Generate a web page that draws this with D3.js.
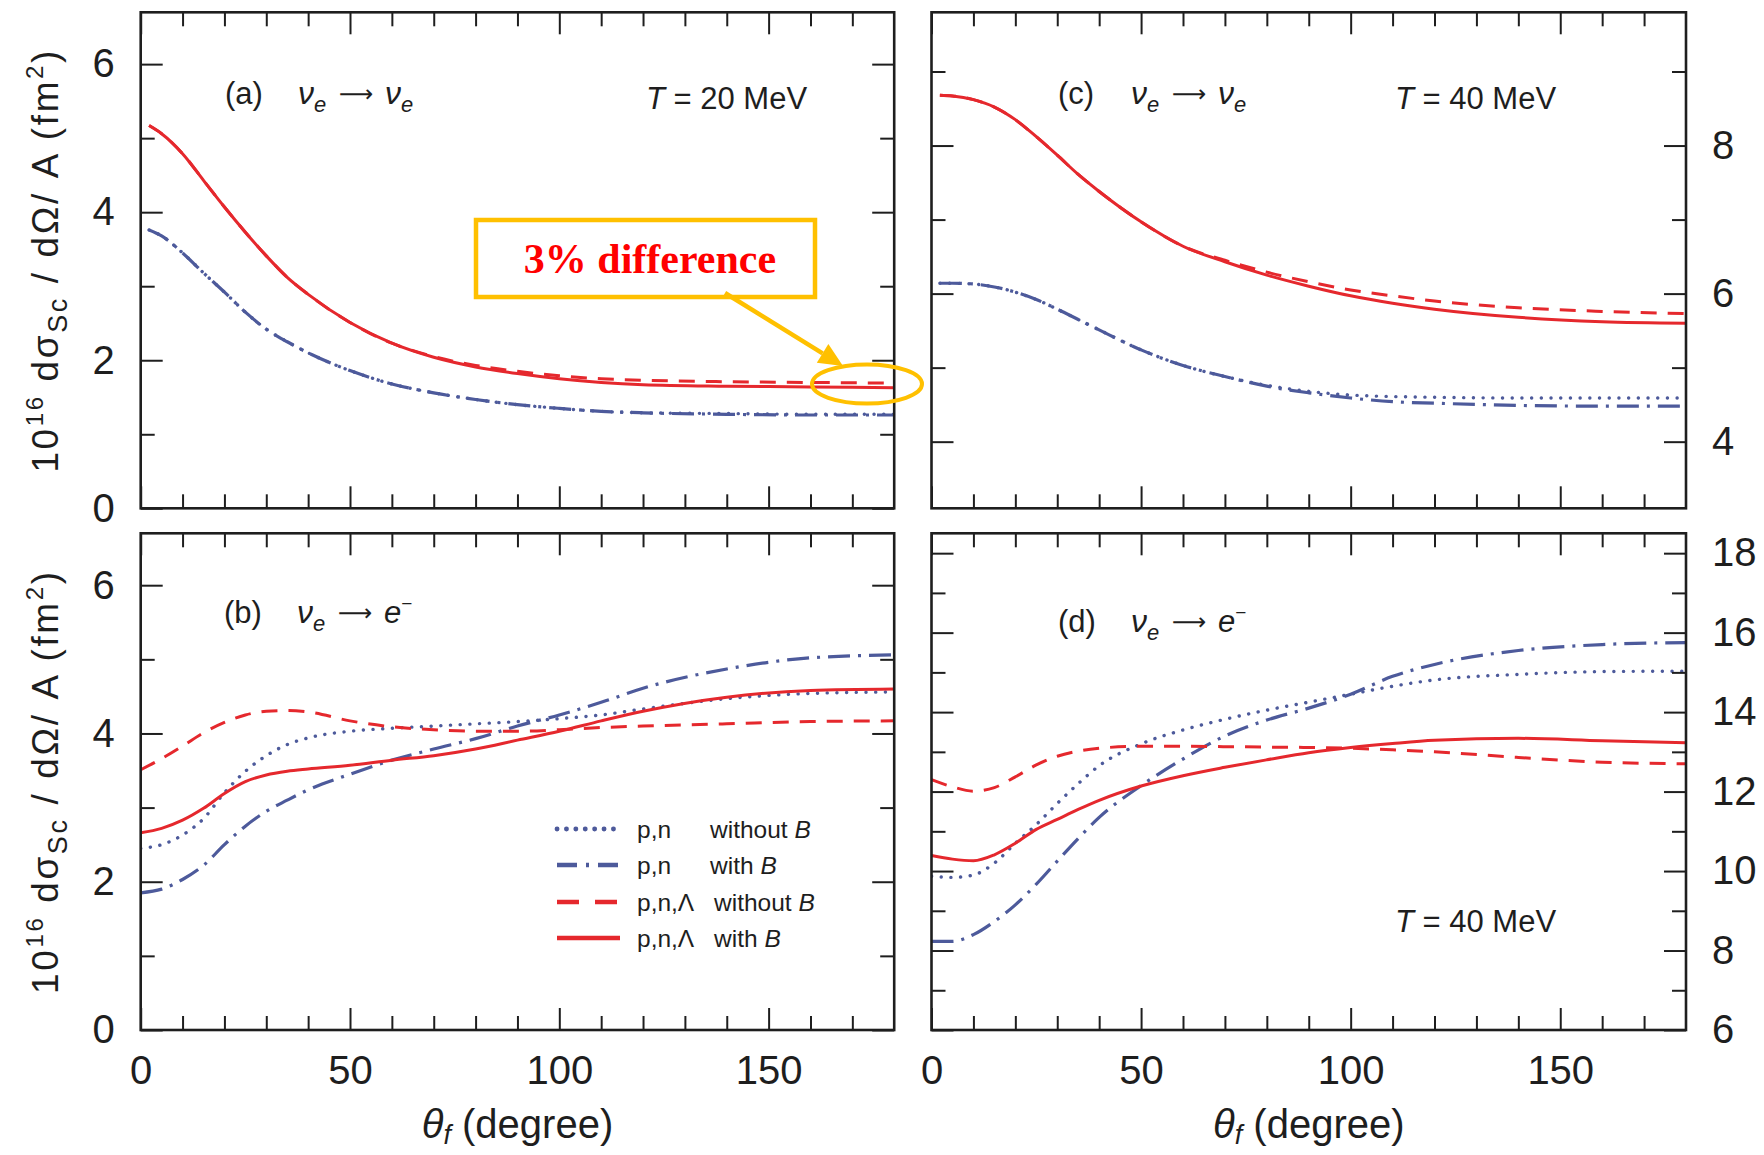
<!DOCTYPE html>
<html>
<head>
<meta charset="utf-8">
<script src="https://cdn.jsdelivr.net/npm/d3@7"></script>
<style>
  body { margin: 0; background: #fff; }
  svg { display: block; font-family: "Liberation Sans", Arial, Helvetica, sans-serif; }
</style>
</head>
<body>
<svg id="chart" width="1764" height="1155"></svg>
<script>
// ---------- data ----------
// scattering angle grids (degree)
const anglesTop    = [2, 5, 10, 15, 20, 25, 30, 35, 40, 50, 60, 70, 80, 90, 100, 110, 120, 140, 160, 180];
const anglesBottom = [0, 5, 10, 15, 20, 25, 30, 35, 40, 50, 60, 70, 80, 90, 100, 110, 120, 140, 160, 180];

// (a) nu_e -> nu_e, T = 20 MeV
const aPnWithoutB   = [3.76, 3.68, 3.45, 3.18, 2.92, 2.65, 2.42, 2.25, 2.10, 1.86, 1.68, 1.56, 1.47, 1.40, 1.35, 1.31, 1.29, 1.28, 1.27, 1.27];
const aPnWithB      = [3.76, 3.68, 3.45, 3.18, 2.92, 2.65, 2.42, 2.25, 2.10, 1.86, 1.68, 1.56, 1.47, 1.40, 1.35, 1.31, 1.29, 1.27, 1.26, 1.26];
const aPnLWithoutB  = [5.17, 5.06, 4.79, 4.43, 4.07, 3.73, 3.41, 3.12, 2.89, 2.51, 2.23, 2.05, 1.93, 1.85, 1.79, 1.75, 1.73, 1.71, 1.70, 1.69];
const aPnLWithB     = [5.17, 5.06, 4.79, 4.43, 4.07, 3.73, 3.41, 3.12, 2.89, 2.51, 2.23, 2.04, 1.91, 1.82, 1.75, 1.70, 1.67, 1.65, 1.64, 1.63];

// (c) nu_e -> nu_e, T = 40 MeV
const cPnWithoutB   = [6.14, 6.14, 6.13, 6.09, 6.02, 5.92, 5.79, 5.65, 5.51, 5.24, 5.03, 4.88, 4.76, 4.68, 4.63, 4.61, 4.60, 4.59, 4.59, 4.59];
const cPnWithB      = [6.14, 6.14, 6.13, 6.09, 6.02, 5.92, 5.79, 5.65, 5.51, 5.24, 5.03, 4.88, 4.75, 4.66, 4.59, 4.54, 4.52, 4.49, 4.48, 4.48];
const cPnLWithoutB  = [8.68, 8.67, 8.62, 8.52, 8.35, 8.12, 7.87, 7.61, 7.38, 6.97, 6.64, 6.45, 6.29, 6.16, 6.05, 5.97, 5.90, 5.81, 5.76, 5.73];
const cPnLWithB     = [8.68, 8.67, 8.62, 8.52, 8.35, 8.12, 7.87, 7.61, 7.38, 6.97, 6.64, 6.43, 6.25, 6.10, 5.97, 5.87, 5.79, 5.68, 5.62, 5.60];

// (b) nu_e -> e-, T = 20 MeV
const bPnWithoutB   = [2.45, 2.50, 2.63, 2.85, 3.20, 3.49, 3.70, 3.85, 3.94, 4.03, 4.07, 4.10, 4.13, 4.16, 4.20, 4.25, 4.33, 4.47, 4.54, 4.56];
const bPnWithB      = [1.85, 1.90, 2.03, 2.22, 2.50, 2.75, 2.95, 3.10, 3.24, 3.45, 3.64, 3.79, 3.93, 4.10, 4.25, 4.42, 4.61, 4.87, 5.02, 5.06];
const bPnLWithoutB  = [3.51, 3.66, 3.83, 4.01, 4.15, 4.25, 4.30, 4.31, 4.29, 4.17, 4.09, 4.05, 4.03, 4.03, 4.05, 4.08, 4.10, 4.13, 4.16, 4.17];
const bPnLWithB     = [2.66, 2.72, 2.83, 2.99, 3.19, 3.35, 3.44, 3.49, 3.52, 3.57, 3.64, 3.70, 3.79, 3.91, 4.03, 4.17, 4.30, 4.49, 4.58, 4.60];

// (d) nu_e -> e-, T = 40 MeV
const dPnWithoutB   = [9.87, 9.84, 9.90, 10.20, 10.70, 11.17, 11.70, 12.20, 12.65, 13.20, 13.55, 13.82, 14.05, 14.25, 14.45, 14.65, 14.81, 14.95, 15.02, 15.03];
const dPnWithB      = [8.23, 8.23, 8.40, 8.73, 9.15, 9.67, 10.25, 10.82, 11.35, 12.15, 12.82, 13.40, 13.80, 14.10, 14.45, 14.90, 15.20, 15.55, 15.70, 15.75];
const dPnLWithoutB  = [12.30, 12.12, 12.01, 12.10, 12.37, 12.67, 12.89, 13.02, 13.09, 13.14, 13.14, 13.13, 13.12, 13.11, 13.09, 13.05, 13.00, 12.86, 12.74, 12.70];
const dPnLWithB     = [10.39, 10.30, 10.26, 10.41, 10.70, 11.05, 11.30, 11.55, 11.78, 12.14, 12.40, 12.61, 12.80, 12.98, 13.11, 13.21, 13.29, 13.34, 13.28, 13.23];

// axis ticks and labels
const xDomain       = [0, 180];
const xMajorTicks   = [0, 50, 100, 150];
const xMinorTicks   = [10, 20, 30, 40, 60, 70, 80, 90, 110, 120, 130, 140, 160, 170];
const yMajorLeft    = [0, 2, 4, 6];
const yMinorLeft    = [1, 3, 5];
const yMajorC       = [4, 6, 8];
const yMinorC       = [5, 7, 9];
const yMajorD       = [6, 8, 10, 12, 14, 16, 18];
const yMinorD       = [7, 9, 11, 13, 15, 17];

// legend entries
const legendModel   = ["p,n", "p,n", "p,n,\u039B", "p,n,\u039B"];
const legendCase    = ["without", "with", "without", "with"];

// ---------- styles ----------
const blue = "#4d5a9b", red = "#e5282d", ink = "#1e1e1e", gold = "#ffc000";
const lineStyles = [
  { color: blue, width: 3.4, dash: "0.1 9.6", cap: "round" },   // p,n without B (dotted)
  { color: blue, width: 3.2, dash: "22 8 3 8", cap: "butt" },   // p,n with B (dash-dot)
  { color: red,  width: 3.0, dash: "16 11", cap: "butt" },      // p,n,Λ without B (dashed)
  { color: red,  width: 3.0, dash: null, cap: "butt" }          // p,n,Λ with B (solid)
];

// ---------- layout ----------
const colX = [[140.7, 894.2], [931.5, 1686]];
const rowY = [[12.3, 508.3], [533.3, 1030]];

const panels = [
  { key: "a", col: 0, row: 0, domain: [0, 6.7],   major: yMajorLeft, minor: yMinorLeft, side: "left",
    angles: anglesTop,    series: [aPnWithoutB, aPnWithB, aPnLWithoutB, aPnLWithB] },
  { key: "c", col: 1, row: 0, domain: [3.1, 9.8], major: yMajorC,    minor: yMinorC,    side: "right",
    angles: anglesTop,    series: [cPnWithoutB, cPnWithB, cPnLWithoutB, cPnLWithB] },
  { key: "b", col: 0, row: 1, domain: [0, 6.7],   major: yMajorLeft, minor: yMinorLeft, side: "left",
    angles: anglesBottom, series: [bPnWithoutB, bPnWithB, bPnLWithoutB, bPnLWithB] },
  { key: "d", col: 1, row: 1, domain: [6, 18.5],  major: yMajorD,    minor: yMinorD,    side: "right",
    angles: anglesBottom, series: [dPnWithoutB, dPnWithB, dPnLWithoutB, dPnLWithB] }
];

const svg = d3.select("#chart");
const defs = svg.append("defs");

const MAJOR = 22, MINOR = 14, TICK_FONT = 40;
const SANS = "'Liberation Sans', Arial, Helvetica, sans-serif";
const SERIF = "'Liberation Serif', 'Times New Roman', serif";
const SYMBOL = "'DejaVu Sans', sans-serif";

function styleAxis(g) {
  g.select(".domain").remove();
  g.selectAll(".tick line").attr("stroke", ink).attr("stroke-width", 2);
  g.selectAll(".tick text").attr("font-size", TICK_FONT).attr("fill", ink).attr("font-family", SANS);
}

panels.forEach(p => {
  const [x0, x1] = colX[p.col];
  const [y0, y1] = rowY[p.row];
  const x = d3.scaleLinear().domain(xDomain).range([x0, x1]);
  const y = d3.scaleLinear().domain(p.domain).range([y1, y0]);
  const w = x1 - x0, h = y1 - y0;

  const g = svg.append("g").attr("class", "panel-" + p.key);

  defs.append("clipPath").attr("id", "clip-" + p.key)
    .append("rect").attr("x", x0).attr("y", y0).attr("width", w).attr("height", h);

  // curves
  const line = d3.line().x(d => x(d[0])).y(d => y(d[1])).curve(d3.curveMonotoneX);
  const curves = g.append("g").attr("clip-path", `url(#clip-${p.key})`);
  p.series.forEach((vals, i) => {
    const st = lineStyles[i];
    curves.append("path")
      .datum(p.angles.map((a, k) => [a, vals[k]]))
      .attr("d", line)
      .attr("fill", "none")
      .attr("stroke", st.color)
      .attr("stroke-width", st.width)
      .attr("stroke-linecap", st.cap)
      .attr("stroke-dasharray", st.dash);
  });

  // x ticks: bottom and top (inward)
  const isBottom = p.row === 1;
  g.append("g").attr("transform", `translate(0,${y1})`)
    .call(d3.axisBottom(x).tickValues(xMinorTicks).tickSize(-MINOR).tickSizeOuter(0).tickFormat(""))
    .call(styleAxis);
  g.append("g").attr("transform", `translate(0,${y1})`)
    .call(d3.axisBottom(x).tickValues(xMajorTicks).tickSize(-MAJOR).tickSizeOuter(0).tickPadding(26)
      .tickFormat(isBottom ? d3.format("d") : ""))
    .call(styleAxis);
  g.append("g").attr("transform", `translate(0,${y0})`)
    .call(d3.axisTop(x).tickValues(xMinorTicks).tickSize(-MINOR).tickSizeOuter(0).tickFormat(""))
    .call(styleAxis);
  g.append("g").attr("transform", `translate(0,${y0})`)
    .call(d3.axisTop(x).tickValues(xMajorTicks).tickSize(-MAJOR).tickSizeOuter(0).tickFormat(""))
    .call(styleAxis);

  // y ticks: left and right (inward)
  const leftLabels = p.side === "left", rightLabels = p.side === "right";
  g.append("g").attr("transform", `translate(${x0},0)`)
    .call(d3.axisLeft(y).tickValues(p.minor).tickSize(-MINOR).tickSizeOuter(0).tickFormat(""))
    .call(styleAxis);
  g.append("g").attr("transform", `translate(${x0},0)`)
    .call(d3.axisLeft(y).tickValues(p.major).tickSize(-MAJOR).tickSizeOuter(0).tickPadding(26)
      .tickFormat(leftLabels ? d3.format("d") : ""))
    .call(styleAxis);
  g.append("g").attr("transform", `translate(${x1},0)`)
    .call(d3.axisRight(y).tickValues(p.minor).tickSize(-MINOR).tickSizeOuter(0).tickFormat(""))
    .call(styleAxis);
  g.append("g").attr("transform", `translate(${x1},0)`)
    .call(d3.axisRight(y).tickValues(p.major).tickSize(-MAJOR).tickSizeOuter(0).tickPadding(26)
      .tickFormat(rightLabels ? d3.format("d") : ""))
    .call(styleAxis);

  // frame
  g.append("rect").attr("x", x0).attr("y", y0).attr("width", w).attr("height", h)
    .attr("fill", "none").attr("stroke", ink).attr("stroke-width", 2.6);
});

// ---------- rich text helper ----------
function richText(parent, x, y, size, parts, attrs = {}) {
  const t = parent.append("text").attr("x", x).attr("y", y).attr("font-size", size)
    .attr("fill", ink).attr("font-family", SANS);
  Object.entries(attrs).forEach(([k, v]) => t.attr(k, v));
  let shift = 0;
  parts.forEach(pt => {
    const s = t.append("tspan").text(pt.t);
    if (pt.italic) s.attr("font-style", "italic");
    if (pt.size) s.attr("font-size", pt.size);
    if (pt.font) s.attr("font-family", pt.font);
    if (pt.x !== undefined) s.attr("x", pt.x);
    const target = pt.shift || 0;
    if (target !== shift) { s.attr("dy", target - shift); shift = target; }
    if (pt.dx) s.attr("dx", pt.dx);
  });
  return t;
}

// panel captions
const nuE = (xNu) => [
  { t: "\u03BD", italic: true, x: xNu, size: 32 },
  { t: "e", italic: true, size: 22, shift: 8 }
];
const arrow = (xa) => ({ t: "\u27F6", x: xa, size: 24, font: SYMBOL, shift: -2 });
richText(svg, 225, 104, 31, [{ t: "(a)" }, ...nuE(298), arrow(339), ...nuE(385)]);
richText(svg, 1058, 104, 31, [{ t: "(c)" }, ...nuE(1131), arrow(1172), ...nuE(1218)]);
richText(svg, 224, 623, 31, [{ t: "(b)" }, ...nuE(297), arrow(338),
  { t: "e", italic: true, x: 384, size: 31 }, { t: "\u2212", size: 19, shift: -13 }]);
richText(svg, 1058, 632, 31, [{ t: "(d)" }, ...nuE(1131), arrow(1172),
  { t: "e", italic: true, x: 1218, size: 31 }, { t: "\u2212", size: 19, shift: -13 }]);

richText(svg, 646, 109, 31, [{ t: "T", italic: true }, { t: " = 20 MeV" }]);
richText(svg, 1395, 109, 31, [{ t: "T", italic: true }, { t: " = 40 MeV" }]);
richText(svg, 1395, 932, 31, [{ t: "T", italic: true }, { t: " = 40 MeV" }]);

// axis titles
colX.forEach(([x0, x1]) => {
  richText(svg, (x0 + x1) / 2, 1138, 40,
    [{ t: "\u03B8", italic: true }, { t: "f", italic: true, size: 27, shift: 6 }, { t: " (degree)", shift: 0 }],
    { "text-anchor": "middle" });
});
rowY.forEach(([y0, y1]) => {
  const cy = (y0 + y1) / 2;
  richText(svg, 0, 0, 37,
    [{ t: "10" }, { t: "16", size: 24, shift: -15 }, { t: " d\u03C3", shift: 0 }, { t: "Sc", size: 27, shift: 9 },
     { t: " / d\u03A9/ A (fm", shift: 0 }, { t: "2", size: 24, shift: -15 }, { t: ")", shift: 0 }],
    { "text-anchor": "middle", "letter-spacing": 2.6, transform: `translate(58,${cy}) rotate(-90)` });
});

// legend in panel (b)
const legend = svg.append("g");
const legendRows = [829, 865, 902, 938];
const legendDash = ["0.1 9.3", "20 9 3 9", "22 16", null];
legendRows.forEach((ry, i) => {
  const st = lineStyles[i];
  legend.append("line").attr("x1", 557).attr("x2", 620).attr("y1", ry).attr("y2", ry)
    .attr("stroke", st.color).attr("stroke-width", st.width + 1.4)
    .attr("stroke-linecap", st.cap)
    .attr("stroke-dasharray", legendDash[i]);
  richText(legend, 637, ry + 8.5, 24.5, [{ t: legendModel[i] }]);
  richText(legend, i < 2 ? 710 : 714, ry + 8.5, 24.5, [{ t: legendCase[i] + " " }, { t: "B", italic: true }]);
});

// annotation: 3% difference
const ann = svg.append("g");
ann.append("rect").attr("x", 476).attr("y", 220).attr("width", 339).attr("height", 77)
  .attr("fill", "#fff").attr("stroke", gold).attr("stroke-width", 4.5);
ann.append("text").attr("x", 650).attr("y", 273).attr("text-anchor", "middle")
  .style("font-family", SERIF).style("font-weight", "bold")
  .style("font-size", "42px").style("fill", "#ff0000").text("3% difference");
const ax0 = 725, ay0 = 293, ax1 = 843, ay1 = 366;
const ang = Math.atan2(ay1 - ay0, ax1 - ax0), headL = 24, headW = 11;
const bx = ax1 - headL * Math.cos(ang), by = ay1 - headL * Math.sin(ang);
ann.append("line").attr("x1", ax0).attr("y1", ay0).attr("x2", bx).attr("y2", by)
  .attr("stroke", gold).attr("stroke-width", 4.5);
ann.append("path")
  .attr("d", `M${ax1},${ay1} L${bx + headW * Math.sin(ang)},${by - headW * Math.cos(ang)} L${bx - headW * Math.sin(ang)},${by + headW * Math.cos(ang)} Z`)
  .attr("fill", gold);
ann.append("ellipse").attr("cx", 867).attr("cy", 384).attr("rx", 55).attr("ry", 19.5)
  .attr("fill", "none").attr("stroke", gold).attr("stroke-width", 4);
</script>
</body>
</html>
